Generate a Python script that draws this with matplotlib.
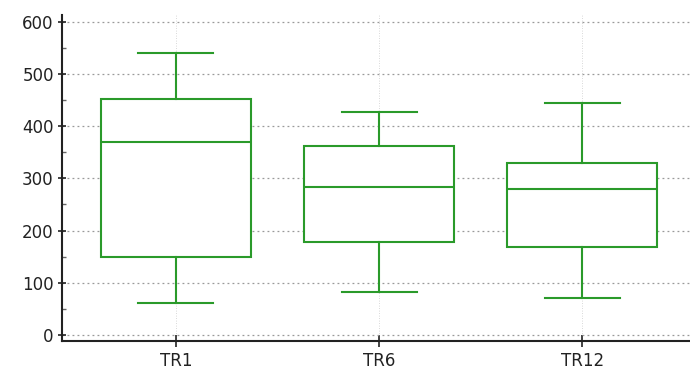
import matplotlib
matplotlib.use("Agg")
import matplotlib.pyplot as plt
from matplotlib.ticker import MultipleLocator

labels = ["TR1", "TR6", "TR12"]
whislo = [62, 83, 71]
q1 = [149, 179, 169]
med = [369, 284, 280]
q3 = [452, 362, 330]
whishi = [540, 428, 444]

stats = []
for i in range(len(labels)):
    stats.append({"label": labels[i], "whislo": whislo[i], "q1": q1[i],
                  "med": med[i], "q3": q3[i], "whishi": whishi[i], "fliers": []})

plt.rcParams['font.family'] = ['DejaVu Sans']
fig = plt.figure(figsize=(6.9, 3.7), dpi=100)
ax = fig.add_axes([0.09, 0.078, 0.91, 0.881])

green = '#2a9a2a'
lp = dict(color=green, linewidth=1.5)
ax.bxp(stats, widths=0.74, showfliers=False, patch_artist=True,
       boxprops=dict(facecolor='white', edgecolor=green, linewidth=1.5),
       medianprops=lp, whiskerprops=lp, capprops=lp)

ax.set_xlim(0.44, 3.53)
ax.set_ylim(-12, 613)
ax.yaxis.set_major_locator(MultipleLocator(100))
ax.yaxis.set_minor_locator(MultipleLocator(50))
ax.grid(axis='y', color='#999999', linestyle=(0, (1.5, 2.5)), linewidth=0.9)
ax.grid(axis='x', color='#cccccc', linestyle=(0, (1, 2)), linewidth=0.6)
ax.set_axisbelow(True)
for s in ['top', 'right']:
    ax.spines[s].set_visible(False)
for s in ['left', 'bottom']:
    ax.spines[s].set_linewidth(1.5)
    ax.spines[s].set_color('#222222')
ax.tick_params(axis='y', which='major', direction='inout', length=6, width=1.2,
               labelsize=12, colors='#222222', pad=3)
ax.tick_params(axis='y', which='minor', direction='in', length=3, width=1, colors='#666666')
ax.tick_params(axis='x', direction='inout', length=8, width=1.2, labelsize=12, colors='#222222')

fig.savefig("out.png", dpi=100)
